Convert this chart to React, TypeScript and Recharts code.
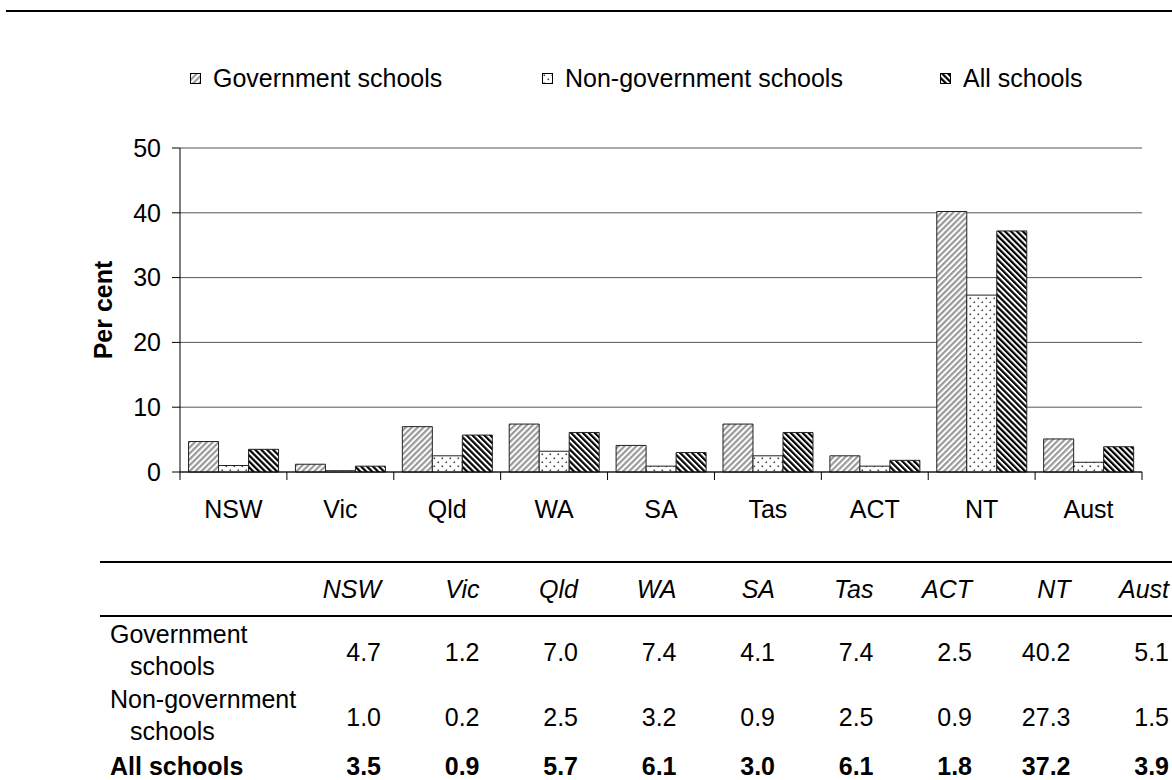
import React from 'react';
import { BarChart, Bar, XAxis, YAxis, CartesianGrid, Legend } from 'recharts';

const categories = ['NSW', 'Vic', 'Qld', 'WA', 'SA', 'Tas', 'ACT', 'NT', 'Aust'];
const govValues = [4.7, 1.2, 7.0, 7.4, 4.1, 7.4, 2.5, 40.2, 5.1];
const nonGovValues = [1.0, 0.2, 2.5, 3.2, 0.9, 2.5, 0.9, 27.3, 1.5];
const allValues = [3.5, 0.9, 5.7, 6.1, 3.0, 6.1, 1.8, 37.2, 3.9];
const yTicks = [0, 10, 20, 30, 40, 50];
const seriesNames = ['Government schools', 'Non-government schools', 'All schools'];
const seriesKeys = ['gov', 'nonGov', 'all'];
const rowLabels = [['Government', 'schools'], ['Non-government', 'schools'], ['All schools']];
const rowValues = [govValues, nonGovValues, allValues];

const data = categories.map((c, i) => ({
  cat: c,
  gov: govValues[i],
  nonGov: nonGovValues[i],
  all: allValues[i],
}));

const W = 1172;
const H = 780;
const CH = 540;
const PLOT_LEFT = 180;
const PLOT_RIGHT = 1142;
const BAND = (PLOT_RIGHT - PLOT_LEFT) / categories.length;
const FONT = '"Liberation Sans", Arial, sans-serif';
const FS = 25;
const LEGEND_H = 40;

const fills = ['url(#patGov)', 'url(#patNon)', 'url(#patAll)'];

function Patterns() {
  return (
    <defs>
      <pattern id="patGov" width="4.2" height="4.2" patternUnits="userSpaceOnUse" patternTransform="rotate(45)">
        <rect width="4.2" height="4.2" fill="#fff" />
        <rect width="2.2" height="4.2" fill="#9a9a9a" />
      </pattern>
      <pattern id="patNon" width="8" height="8" patternUnits="userSpaceOnUse">
        <rect width="8" height="8" fill="#fff" />
        <rect x="1.5" y="1.5" width="1.6" height="1.6" fill="#444" />
        <rect x="5.5" y="5.5" width="1.6" height="1.6" fill="#444" />
      </pattern>
      <pattern id="patAll" width="4.2" height="4.2" patternUnits="userSpaceOnUse" patternTransform="rotate(-45)">
        <rect width="4.2" height="4.2" fill="#fff" />
        <rect width="2.2" height="4.2" fill="#000" />
      </pattern>
    </defs>
  );
}

function XTick(props: any) {
  const { x, y, payload, index } = props;
  const left = x - BAND / 2;
  const right = x + BAND / 2;
  return (
    <g>
      <line x1={left} y1={y} x2={left} y2={y + 8} stroke="#000" strokeWidth={1} />
      {index === categories.length - 1 ? (
        <line x1={right} y1={y} x2={right} y2={y + 8} stroke="#000" strokeWidth={1} />
      ) : null}
      <text x={x} y={y + 46} textAnchor="middle" fontSize={FS} fontFamily={FONT} fill="#000">
        {payload.value}
      </text>
    </g>
  );
}

const legendIconX = [190, 542, 940];

function LegendContent() {
  return (
    <div style={{ position: 'relative', width: W, height: LEGEND_H }}>
      {seriesNames.map((name, i) => (
        <div key={name} style={{ position: 'absolute', left: legendIconX[i], top: 0, height: LEGEND_H, display: 'flex', alignItems: 'center' }}>
          <svg width={11} height={11} style={{ display: 'block' }}>
            <rect x={0.5} y={0.5} width={10} height={10} fill={fills[i]} stroke="#000" strokeWidth={1} />
          </svg>
          <span style={{ marginLeft: 12, fontSize: FS, fontFamily: FONT, color: '#000', whiteSpace: 'nowrap' }}>{name}</span>
        </div>
      ))}
    </div>
  );
}

const colRight = [381, 479.5, 578, 676.5, 775, 873.5, 972, 1070.5, 1169];
const rowCenters = [652, 717, 766];

export default function App() {
  return (
    <div style={{ position: 'absolute', left: 0, top: 0, width: W, height: H, background: '#fff', fontFamily: FONT }}>
      <svg width={W} height={20} style={{ position: 'absolute', left: 0, top: 0 }}>
        <line x1={6} y1={11} x2={W} y2={11} stroke="#000" strokeWidth={2} />
      </svg>
      <div style={{ position: 'absolute', left: 0, top: 0 }}>
        <BarChart
          width={W}
          height={CH}
          data={data}
          margin={{ top: 148 - LEGEND_H, right: W - PLOT_RIGHT, bottom: 8, left: 0 }}
          barCategoryGap="8%"
          barGap={0}
        >
          <Patterns />
          <CartesianGrid horizontal={true} vertical={false} stroke="#555" strokeWidth={1} />
          <XAxis
            dataKey="cat"
            interval={0}
            tickSize={0}
            tickMargin={0}
            tickLine={false}
            height={60}
            axisLine={{ stroke: '#000', strokeWidth: 1 }}
            tick={<XTick />}
          />
          <YAxis
            width={PLOT_LEFT}
            domain={[0, 50]}
            ticks={yTicks}
            interval={0}
            tickSize={8}
            tickMargin={11}
            axisLine={{ stroke: '#000', strokeWidth: 1 }}
            tickLine={{ stroke: '#000', strokeWidth: 1 }}
            tick={{ fontSize: FS, fontFamily: FONT, fill: '#000' }}
            label={{
              value: 'Per cent',
              angle: -90,
              position: 'insideLeft',
              offset: 0,
              dx: 103,
              style: { fontSize: FS, fontWeight: 'bold', fontFamily: FONT, fill: '#000', textAnchor: 'middle' },
            }}
          />
          <Legend verticalAlign="top" wrapperStyle={{ top: 58, left: 0, width: W }} content={<LegendContent />} />
          {seriesKeys.map((k, i) => (
            <Bar key={k} dataKey={k} name={seriesNames[i]} fill={fills[i]} stroke="#222" strokeWidth={1} isAnimationActive={false} />
          ))}
        </BarChart>
      </div>
      <svg width={W} height={H} style={{ position: 'absolute', left: 0, top: 0, pointerEvents: 'none' }}>
        <line x1={100} y1={562} x2={W} y2={562} stroke="#000" strokeWidth={2} />
        <line x1={100} y1={616} x2={W} y2={616} stroke="#000" strokeWidth={2} />
        {categories.map((c, j) => (
          <text key={c} x={colRight[j]} y={589} textAnchor="end" dominantBaseline="central" fontSize={FS} fontStyle="italic" fontFamily={FONT} fill="#000">
            {c}
          </text>
        ))}
        {rowLabels.map((lines, r) => {
          const bold = r === 2;
          return lines.length === 2 ? (
            <g key={r}>
              <text x={110} y={rowCenters[r] - 18} dominantBaseline="central" fontSize={FS} fontFamily={FONT} fill="#000">{lines[0]}</text>
              <text x={130} y={rowCenters[r] + 14} dominantBaseline="central" fontSize={FS} fontFamily={FONT} fill="#000">{lines[1]}</text>
            </g>
          ) : (
            <text key={r} x={110} y={rowCenters[r]} dominantBaseline="central" fontSize={FS} fontWeight={bold ? 'bold' : 'normal'} fontFamily={FONT} fill="#000">{lines[0]}</text>
          );
        })}
        {rowValues.map((vals, r) =>
          vals.map((v, j) => (
            <text key={r + '-' + j} x={colRight[j]} y={rowCenters[r]} textAnchor="end" dominantBaseline="central" fontSize={FS} fontWeight={r === 2 ? 'bold' : 'normal'} fontFamily={FONT} fill="#000">
              {v.toFixed(1)}
            </text>
          ))
        )}
      </svg>
    </div>
  );
}
